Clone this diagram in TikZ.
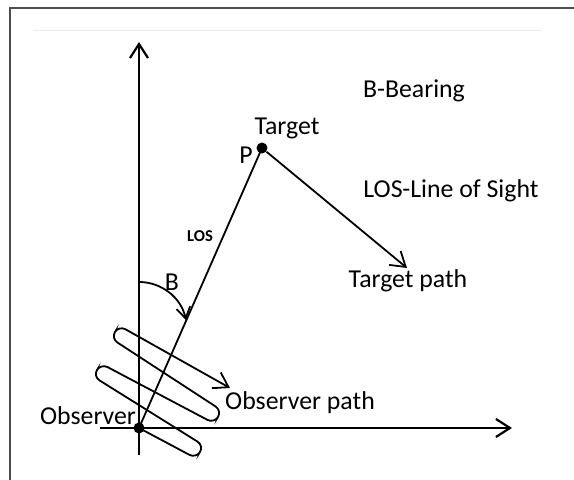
\documentclass[tikz,border=0pt]{standalone}
\usepackage{fontspec}
\setmainfont{Carlito}
\usetikzlibrary{arrows.meta}

\begin{document}
\begin{tikzpicture}[
  x=0.5pt, y=0.5pt,
  >={Straight Barb[length=7pt,width=9pt]},
  lbl/.style={font=\fontsize{12.9}{15}\selectfont,inner sep=0pt},
  dot/.style={circle,fill=black,inner sep=0pt,minimum size=5.5pt},
  axis/.style={line width=1.1pt,->},
  trace/.style={line width=0.9pt},
]

\useasboundingbox (-139,-52) rectangle (435,428);

% Frame round the sketch
\draw[black!70,line width=1.2pt] (-129,-52) -- (-129,420) -- (435,420);
\draw[black!8,line width=0.5pt] (-106,397) -- (403,397);

% Axes through the observer
\node[dot] (obs) at (0,0) {};
\coordinate (ytop) at (0,386);
\coordinate (ybot) at (0,-27);
\coordinate (xleft) at (-39,0);
\coordinate (xright) at (373,0);
\draw[axis] (ybot) -- (ytop);
\draw[axis] (xleft) -- (xright);

% Target, line of sight and target path
\node[dot] (tgt) at (123,280) {};
\coordinate (tpend) at (268,160);
\draw[trace] (obs.center) -- (tgt.center);
\draw[trace,->] (tgt) -- (tpend);

% Bearing arc
\coordinate (barc) at (0,146);
\draw[trace,-{Straight Barb[length=5.5pt,width=7pt]}] (barc) arc[start angle=90,end angle=12,radius=48];

% Observer path (zig-zag with round turns)
\draw[trace,rounded corners=3.75pt,->] (obs.center) -- (57.1,-30.4) -- (64.9,-17.6)
  -- (-45.9,51.6) -- (-38.1,64.4) -- (75.1,4.6) -- (82.9,17.4)
  -- (-27.9,89.6) -- (-20.1,102.4) -- (91,40);

% Labels
\node[lbl] (tgtlbl) at (148,300) {Target};
\node[lbl] (plbl) at (107,273) {P};
\node[font=\bfseries\fontsize{8.3}{10}\selectfont,inner sep=0pt] (loslbl) at (61,192) {LOS};
\node[lbl] (blbl) at (33,146) {B};
\node[lbl] (key1) at (275,337) {B-Bearing};
\node[lbl] (key2) at (312,237) {LOS-Line of Sight};
\node[lbl] (tplbl) at (269,147) {Target path};
\node[lbl] (oplbl) at (161,25) {Observer path};
\node[lbl] (obslbl) at (-51,12) {Observer};

\end{tikzpicture}
\end{document}
